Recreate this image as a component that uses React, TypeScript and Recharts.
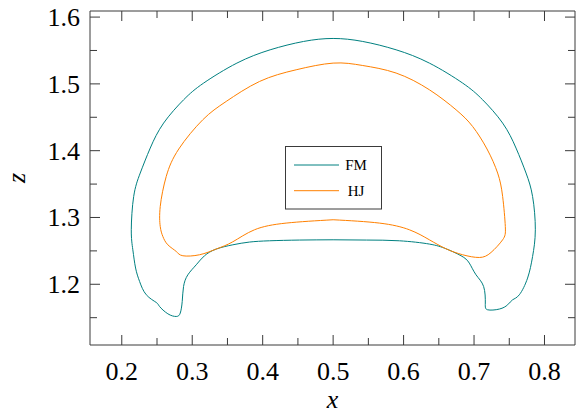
import React from 'react';
import { ComposedChart, Legend, Line, XAxis, YAxis } from 'recharts';

// FM contour (closed)
const fmX = [0.5, 0.4522, 0.4096, 0.3813, 0.3576, 0.334, 0.3174, 0.3057, 0.2938, 0.2877, 0.2858, 0.283, 0.2773, 0.2654, 0.2536, 0.2489, 0.2348, 0.2253, 0.2196, 0.2157, 0.2135, 0.2169, 0.2262, 0.2404, 0.2594, 0.2878, 0.3162, 0.3634, 0.4106, 0.458, 0.5, 0.542, 0.5894, 0.6366, 0.6838, 0.7122, 0.7406, 0.7596, 0.7738, 0.7831, 0.787, 0.7831, 0.776, 0.7643, 0.7548, 0.7477, 0.7359, 0.7193, 0.716, 0.7136, 0.7028, 0.6933, 0.6816, 0.6603, 0.6366, 0.594, 0.5472, 0.5];
const fmY = [1.2666, 1.2662, 1.2651, 1.2632, 1.2591, 1.2527, 1.2427, 1.2292, 1.2142, 1.1967, 1.1743, 1.1569, 1.1518, 1.1558, 1.1668, 1.1728, 1.1843, 1.2042, 1.2243, 1.2516, 1.2816, 1.3314, 1.3665, 1.4039, 1.4413, 1.4762, 1.5012, 1.5311, 1.551, 1.5635, 1.568, 1.5635, 1.551, 1.5311, 1.5012, 1.4762, 1.4413, 1.4039, 1.3665, 1.3314, 1.2816, 1.2416, 1.2093, 1.1843, 1.1768, 1.1693, 1.1629, 1.1618, 1.1719, 1.1967, 1.2142, 1.2317, 1.2427, 1.2531, 1.2602, 1.2651, 1.2662, 1.2666];

// HJ contour (closed)
const hjX = [0.5, 0.4333, 0.3884, 0.3576, 0.334, 0.3104, 0.2867, 0.2773, 0.2654, 0.2583, 0.2546, 0.2546, 0.2631, 0.2809, 0.315, 0.3482, 0.3955, 0.4475, 0.5, 0.542, 0.5894, 0.6366, 0.6745, 0.698, 0.7184, 0.7335, 0.7406, 0.7444, 0.7406, 0.7241, 0.7075, 0.6838, 0.6603, 0.6366, 0.6082, 0.5657, 0.5];
const hjY = [1.2966, 1.2916, 1.2816, 1.2636, 1.2527, 1.2442, 1.2427, 1.2491, 1.2591, 1.2716, 1.2865, 1.3165, 1.3614, 1.4025, 1.4463, 1.4737, 1.5036, 1.5211, 1.5311, 1.5275, 1.5162, 1.4912, 1.4612, 1.4362, 1.4025, 1.3665, 1.3314, 1.2865, 1.2666, 1.2476, 1.2401, 1.2442, 1.2531, 1.2666, 1.2816, 1.2916, 1.2966];

const xTicks = [0.2, 0.25, 0.3, 0.35, 0.4, 0.45, 0.5, 0.55, 0.6, 0.65, 0.7, 0.75, 0.8];
const yTicks = [1.15, 1.2, 1.25, 1.3, 1.35, 1.4, 1.45, 1.5, 1.55, 1.6];
const xDomain = [0.1549, 0.8433];
const yDomain = [1.1091, 1.6091];

const TEAL = '#008080';
const ORANGE = '#ff8000';
const AXIS = '#3a3a3a';
const FONT = 'Liberation Serif';

const fmData = fmX.map((x, i) => ({ x, y: fmY[i] }));
const hjData = hjX.map((x, i) => ({ x, y: hjY[i] }));

const isMajor = (v: number) => Math.abs(v * 10 - Math.round(v * 10)) < 1e-6;
const len = (v: number) => (isMajor(v) ? 10 : 7);

const BottomTick = ({ x, y, payload }: any) => (
  <g>
    <line x1={x} y1={y} x2={x} y2={y - len(payload.value)} stroke={AXIS} />
    {isMajor(payload.value) && (
      <text x={x} y={y + 35} textAnchor="middle" style={{ fontFamily: FONT, fontSize: 26 }} fill="#000">
        {payload.value.toFixed(1)}
      </text>
    )}
  </g>
);

const TopTick = ({ x, y, payload }: any) => (
  <line x1={x} y1={y} x2={x} y2={y + len(payload.value)} stroke={AXIS} />
);

const LeftTick = ({ x, y, payload }: any) => (
  <g>
    <line x1={x} y1={y} x2={x + len(payload.value)} y2={y} stroke={AXIS} />
    {isMajor(payload.value) && (
      <text x={x - 10} y={y + 9} textAnchor="end" style={{ fontFamily: FONT, fontSize: 26 }} fill="#000">
        {payload.value.toFixed(1)}
      </text>
    )}
  </g>
);

const RightTick = ({ x, y, payload }: any) => (
  <line x1={x} y1={y} x2={x - len(payload.value)} y2={y} stroke={AXIS} />
);

const legendItems = [
  { name: 'FM', color: TEAL },
  { name: 'HJ', color: ORANGE },
];

const LegendBox = () => (
  <svg width={97} height={64} style={{ display: 'block' }}>
    <rect x={0.5} y={0.5} width={96} height={62.5} fill="#fff" stroke={AXIS} />
    {legendItems.map((it, i) => (
      <g key={it.name}>
        <line x1={9} x2={54} y1={19 + i * 25.7} y2={19 + i * 25.7} stroke={it.color} />
        <text x={71} y={24 + i * 25.7} textAnchor="middle" style={{ fontFamily: FONT, fontSize: 15 }} fill="#000">
          {it.name}
        </text>
      </g>
    ))}
  </svg>
);

const XLabel = ({ viewBox }: any) => (
  <text x={viewBox.x + viewBox.width / 2} y={408} textAnchor="middle" style={{ fontFamily: FONT, fontSize: 26, fontStyle: 'italic' }}>
    x
  </text>
);

const ZLabel = ({ viewBox }: any) => {
  const cy = viewBox.y + viewBox.height / 2;
  return (
    <text x={25} y={cy} transform={`rotate(-90 25 ${cy})`} textAnchor="middle" style={{ fontFamily: FONT, fontSize: 26, fontStyle: 'italic' }}>
      z
    </text>
  );
};

export default function App() {
  return (
    <div style={{ position: 'absolute', left: 0, top: 0, background: '#fff' }}>
      <ComposedChart width={576} height={416} margin={{ top: 0, right: 0, bottom: 0, left: 0 }}>
        <XAxis
          xAxisId="b"
          dataKey="x"
          type="number"
          domain={xDomain}
          allowDataOverflow
          ticks={xTicks}
          interval={0}
          height={71}
          tickSize={0}
          tickMargin={0}
          tickLine={false}
          axisLine={{ stroke: AXIS }}
          tick={<BottomTick />}
          label={<XLabel />}
        />
        <XAxis
          xAxisId="t"
          orientation="top"
          dataKey="x"
          type="number"
          domain={xDomain}
          allowDataOverflow
          ticks={xTicks}
          interval={0}
          height={11}
          tickSize={0}
          tickMargin={0}
          tickLine={false}
          axisLine={{ stroke: AXIS }}
          tick={<TopTick />}
        />
        <YAxis
          yAxisId="l"
          type="number"
          domain={yDomain}
          allowDataOverflow
          ticks={yTicks}
          interval={0}
          width={90}
          tickSize={0}
          tickMargin={0}
          tickLine={false}
          axisLine={{ stroke: AXIS }}
          tick={<LeftTick />}
          label={<ZLabel />}
        />
        <YAxis
          yAxisId="r"
          orientation="right"
          type="number"
          domain={yDomain}
          allowDataOverflow
          ticks={yTicks}
          interval={0}
          width={1}
          tickSize={0}
          tickMargin={0}
          tickLine={false}
          axisLine={{ stroke: AXIS }}
          tick={<RightTick />}
        />
        <Line
          xAxisId="b"
          yAxisId="l"
          data={fmData}
          dataKey="y"
          name="FM"
          type="natural"
          stroke={TEAL}
          strokeWidth={1}
          dot={false}
          activeDot={false}
          isAnimationActive={false}
        />
        <Line
          xAxisId="b"
          yAxisId="l"
          data={hjData}
          dataKey="y"
          name="HJ"
          type="natural"
          stroke={ORANGE}
          strokeWidth={1}
          dot={false}
          activeDot={false}
          isAnimationActive={false}
        />
        <Legend
          layout="horizontal"
          verticalAlign="middle"
          align="center"
          content={<LegendBox />}
          wrapperStyle={{ left: 285, top: 146, width: 97, height: 64 }}
        />
      </ComposedChart>
    </div>
  );
}
